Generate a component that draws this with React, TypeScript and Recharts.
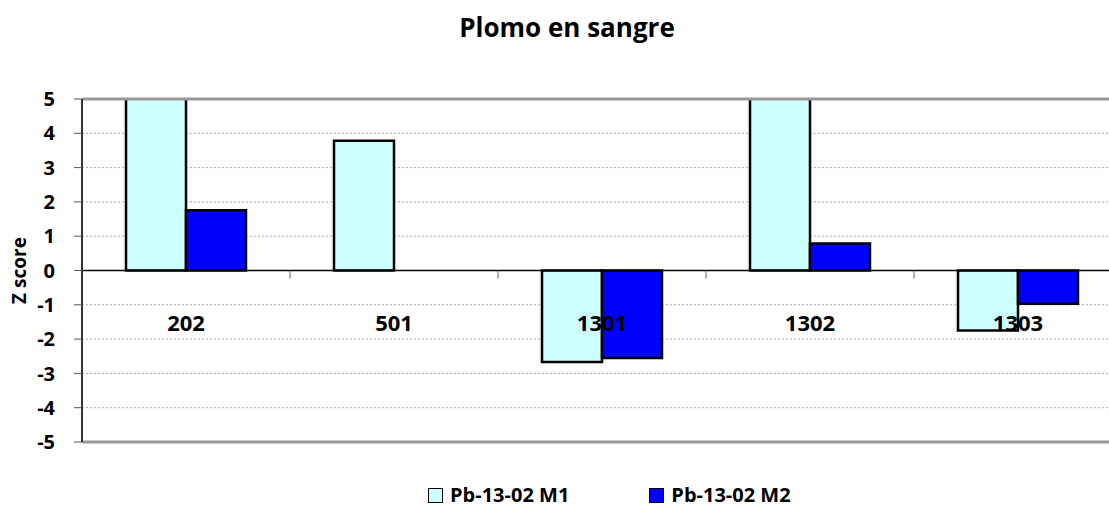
import React from 'react';
import {
  BarChart,
  Bar,
  XAxis,
  YAxis,
  CartesianGrid,
  ReferenceLine,
} from 'recharts';

const categories = ['202', '501', '1301', '1302', '1303'];
const seriesM1 = [5.5, 3.78, -2.67, 5.5, -1.75];
const seriesM2: (number | null)[] = [1.76, null, -2.55, 0.79, -0.97];
const yTicks = [5, 4, 3, 2, 1, 0, -1, -2, -3, -4, -5];
const seriesNames = ['Pb-13-02 M1', 'Pb-13-02 M2'];
const seriesColors = ['#CCFFFF', '#0000FF'];

const data = categories.map((c, i) => ({ name: c, m1: seriesM1[i], m2: seriesM2[i] }));

const FONT = '"Open Sans", sans-serif';
const CHART_W = 1130;
const CHART_H = 510;
const TOP = 99;
const XAXIS_H = 20;
const BOTTOM_MARGIN = 48;
const LEFT = 82;
const RIGHT_MARGIN = 8;
const PLOT_H = CHART_H - TOP - BOTTOM_MARGIN - XAXIS_H;
const PLOT_W = CHART_W - LEFT - RIGHT_MARGIN;
const ZERO_Y = TOP + PLOT_H / 2;
const BAND = PLOT_W / categories.length;

const CategoryTick = (props: any) => {
  const { x, payload } = props;
  return (
    <g>
      <line x1={x + BAND / 2} x2={x + BAND / 2} y1={ZERO_Y} y2={ZERO_Y + 8} stroke="#666" strokeWidth={1} />
      <text
        x={x}
        y={ZERO_Y + 60}
        textAnchor="middle"
        fontFamily={FONT}
        fontWeight={700}
        fontSize={22}
        fill="#000"
      >
        {payload.value}
      </text>
    </g>
  );
};

const ZLabel = () => (
  <text
    x={19}
    y={ZERO_Y}
    transform={`rotate(-90, 19, ${ZERO_Y})`}
    textAnchor="middle"
    dominantBaseline="central"
    fontFamily={FONT}
    fontWeight={700}
    fontSize={19}
    fill="#000"
  >
    Z score
  </text>
);

export default function App() {
  return (
    <div style={{ position: 'absolute', left: 0, top: 0, width: 1109, height: 510, overflow: 'hidden', background: '#fff' }}>
      <div
        style={{
          position: 'absolute',
          left: 0,
          width: 1134,
          top: 9,
          textAlign: 'center',
          fontFamily: FONT,
          fontWeight: 700,
          fontSize: 26,
          color: '#000',
        }}
      >
        Plomo en sangre
      </div>
      <BarChart
        width={CHART_W}
        height={CHART_H}
        data={data}
        margin={{ top: TOP, right: RIGHT_MARGIN, bottom: BOTTOM_MARGIN, left: 0 }}
        barGap={0}
        barCategoryGap="21%"
      >
        <CartesianGrid vertical={false} stroke="#aaa" strokeDasharray="2 2" />
        <ReferenceLine y={5} stroke="#999" strokeWidth={3} />
        <ReferenceLine y={-5} stroke="#999" strokeWidth={3} />
        <ReferenceLine y={0} stroke="#000" strokeWidth={1.5} />
        <YAxis
          width={LEFT}
          domain={[-5, 5]}
          ticks={yTicks}
          interval={0}
          allowDataOverflow
          axisLine={{ stroke: '#333', strokeWidth: 2 }}
          tickLine={{ stroke: '#555' }}
          tickSize={8}
          tickMargin={19}
          tick={{ fill: '#000', fontFamily: FONT, fontWeight: 700, fontSize: 20 }}
          label={{ content: ZLabel }}
        />
        <Bar dataKey="m1" name={seriesNames[0]} fill={seriesColors[0]} stroke="#000" strokeWidth={2.5} barSize={60} isAnimationActive={false} />
        <Bar dataKey="m2" name={seriesNames[1]} fill={seriesColors[1]} stroke="#000" strokeWidth={2.5} barSize={60} isAnimationActive={false} />
        <XAxis
          dataKey="name"
          height={XAXIS_H}
          axisLine={false}
          tickLine={false}
          interval={0}
          tick={<CategoryTick />}
        />
      </BarChart>
      <div
        style={{
          position: 'absolute',
          left: 428,
          top: 481,
          height: 28,
          display: 'flex',
          alignItems: 'center',
          fontFamily: FONT,
          fontWeight: 700,
          fontSize: 20,
          lineHeight: '28px',
          color: '#000',
        }}
      >
        {seriesNames.map((n, i) => (
          <div key={n} style={{ display: 'flex', alignItems: 'center', marginRight: i === 0 ? 80 : 0 }}>
            <div style={{ width: 13, height: 13, background: seriesColors[i], border: '1.5px solid #000', marginRight: 7 }} />
            <span>{n}</span>
          </div>
        ))}
      </div>
    </div>
  );
}
